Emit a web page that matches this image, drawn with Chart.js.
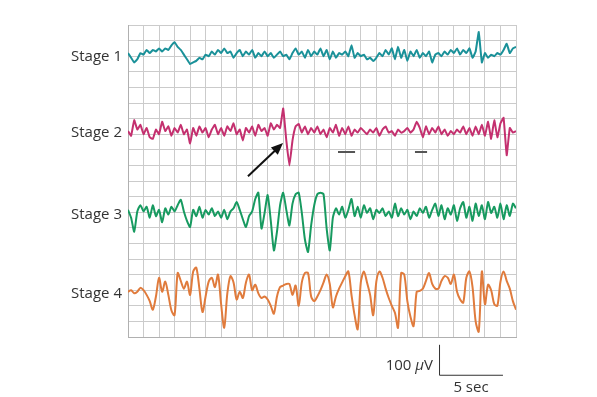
<!DOCTYPE html>
<html>
<head>
<meta charset="utf-8">
<title>Sleep stages EEG</title>
<script src="https://cdn.jsdelivr.net/npm/chart.js@4.4.0/dist/chart.umd.min.js"></script>
<style>
  html, body { margin: 0; padding: 0; background: #fff; }
  #wrap { width: 597px; height: 397px; }
</style>
</head>
<body>
<div id="wrap"><canvas id="eeg" width="597" height="397"></canvas></div>
<script>
// ── Data (x in grid columns, y in grid rows; one column sample every 0.2) ──
const STEP = 0.2;
const STAGE_NAMES = ["Stage 1", "Stage 2", "Stage 3", "Stage 4"];
const STAGE_BASE = [18.1, 13.2, 7.95, 2.9];
const STAGE_COLORS = ["#1a9199", "#c4306f", "#179a60", "#e07b3c"];
const STAGE_TENSION = [0.1, 0.1, 0.2, 0.3];

const stage1 = [
  0.1, -0.2, -0.5, -0.3, 0.1, 0.0, 0.3, 0.1, 0.3, 0.2,
  0.4, 0.2, 0.4, 0.3, 0.6, 0.8, 0.5, 0.3, 0.0, -0.3,
  -0.6, -0.5, -0.4, -0.2, -0.3, 0.0, -0.1, 0.2, 0.0, 0.3,
  0.1, 0.4, 0.1, 0.2, -0.2, 0.1, 0.3, -0.1, 0.2, 0.0,
  0.3, -0.2, 0.1, -0.1, 0.2, -0.1, 0.1, -0.2, 0.0, 0.2,
  -0.1, 0.0, -0.3, 0.1, 0.4, 0.0, 0.2, -0.2, 0.3, -0.1,
  0.2, 0.0, 0.4, -0.1, 0.3, -0.3, 0.2, -0.2, 0.1, 0.0,
  0.2, -0.1, 0.6, -0.2, 0.1, -0.1, 0.0, -0.3, -0.2, -0.4,
  -0.2, 0.1, -0.1, 0.3, 0.0, 0.4, -0.3, 0.5, -0.2, 0.3,
  -0.4, 0.2, -0.1, 0.3, -0.2, 0.1, -0.1, 0.2, -0.5, 0.0,
  0.1, -0.1, 0.2, 0.0, 0.3, 0.1, 0.4, 0.0, 0.3, 0.1,
  0.4, -0.2, 0.2, 1.45, -0.5, 0.1, -0.2, 0.0, -0.1, 0.1,
  0.0, 0.3, 0.7, 0.1, 0.4, 0.5
];

const stage2 = [
  0.0, -0.3, 0.7, 0.1, 0.4, -0.2, 0.2, -0.4, -0.5, 0.1,
  -0.2, 0.6, 0.0, 0.3, -0.3, 0.2, -0.1, 0.4, -0.2, 0.1,
  -0.8, 0.2, -0.3, 0.3, -0.1, 0.2, -0.4, 0.1, 0.4, -0.2,
  0.2, -0.3, 0.3, 0.0, 0.5, -0.2, 0.1, -0.6, 0.2, -0.1,
  0.3, -0.3, 0.4, 0.0, 0.2, -0.3, 0.5, 0.1, 0.4, 0.2,
  1.45, -0.6, -2.2, -0.6, 0.3, 0.45, -0.1, 0.3, -0.2, 0.2,
  -0.1, 0.3, -0.2, 0.1, -0.4, 0.2, -0.1, 0.4, -0.3, 0.2,
  -0.2, 0.3, -0.3, 0.1, -0.1, 0.2, 0.0, -0.2, 0.1, -0.1,
  0.2, -0.3, 0.1, 0.3, -0.1, 0.0, -0.3, 0.1, -0.1, 0.0,
  0.2, -0.1, 0.1, 0.6, 0.2, -0.4, 0.3, -0.2, 0.2, -0.1,
  0.3, -0.2, 0.1, -0.3, 0.0, -0.2, 0.1, -0.1, 0.3, -0.2,
  0.2, -0.3, 0.3, -0.2, 0.4, -0.3, 0.6, -0.5, 0.7, -0.4,
  0.5, 0.85, -1.55, 0.2, -0.1, 0.0
];

const stage3 = [
  0.2, -0.3, -1.2, 0.1, 0.5, 0.1, 0.4, -0.3, 0.5, -0.2,
  0.2, -0.6, 0.3, -0.1, 0.4, 0.1, 0.5, 0.85, 0.1, -0.5,
  -0.9, 0.2, -0.2, 0.4, -0.3, 0.2, -0.1, 0.3, -0.2, 0.1,
  -0.3, 0.2, -0.4, 0.1, 0.3, 0.7, 0.2, -0.4, -0.9, -0.2,
  0.1, 0.9, 1.3, -1.0, 0.0, 1.15, -0.5, -2.4, -1.2, 0.5,
  1.3, 0.2, -0.8, 0.6, 1.2, 1.3, 0.0, -1.7, -2.5, -0.8,
  0.5, 1.2, 1.3, 1.2, -1.0, -2.4, -0.3, 0.3, -0.1, 0.4,
  -0.3, 0.2, 0.9, -0.2, 0.4, -0.3, 0.5, 0.0, 0.3, -0.4,
  0.2, 0.0, 0.3, -0.2, 0.1, -0.3, 0.6, -0.2, 0.3, -0.1,
  0.2, -0.4, 0.1, -0.2, 0.3, 0.0, 0.4, -0.3, 0.2, 0.6,
  -0.2, 0.5, -0.4, 0.3, -0.1, 0.5, -0.5, 0.3, 0.7, -0.3,
  0.4, -0.5, 0.6, -0.2, 0.5, -0.4, 0.7, 0.0, 0.4, -0.3,
  0.6, -0.4, 0.5, -0.2, 0.6, 0.3
];

const stage4 = [
  0.0, 0.1, -0.1, 0.0, 0.25, 0.1, -0.2, -0.6, -1.15, -0.3,
  0.9, 0.0, 0.65, -0.2, -1.2, -1.5, 1.2, 0.7, 0.2, 0.65,
  -0.2, 1.3, 1.55, 0.2, -1.3, -0.3, 0.65, 0.9, 0.3, 1.1,
  -0.8, -2.3, -0.1, 1.0, 0.6, -0.5, 0.0, -0.4, 0.6, 1.1,
  0.1, 0.45, -0.1, -0.4, -0.3, -0.5, -0.9, -1.4, -0.3, 0.3,
  0.4, 0.5, 0.5, -0.2, 0.4, -0.9, 0.6, 1.2, 1.2, -0.3,
  -0.6, -0.3, 0.1, 0.6, 1.1, 0.5, -1.0, -0.3, 0.2, 0.6,
  1.0, 1.3, -0.2, -1.5, -2.4, 0.6, 1.3, 0.6, -0.2, -1.5,
  0.65, 1.3, 0.9, 0.2, -0.4, -0.9, -1.35, -2.3, 1.2, 1.1,
  -0.6, -1.6, -2.2, 0.0, 0.05, 0.2, 0.7, 1.2, 0.5, 0.2,
  0.2, 0.7, 1.0, 0.9, 0.5, 1.1, 0.0, -0.5, -0.7, 0.9,
  1.3, 0.3, -1.9, -2.55, 1.3, -0.8, 0.45, 0.1, -0.8, -0.9,
  0.65, 1.3, 0.7, 0.2, -0.6, -1.15
];

const TRACES = [stage1, stage2, stage3, stage4];

// annotation marks, in grid units
const ARROW = { from: [7.73, 10.3], to: [9.99, 12.44] };
const DASHES = [[13.53, 14.63, 11.86], [18.49, 19.27, 11.86]];
const SCALE_BAR = { x: 20.04, top: -0.5, uv100: 1.92, sec5: 4.12 };

/* ── Datasets ───────────────────────────────────────────────*/
const datasets = TRACES.map((vals, s) => ({
  label: STAGE_NAMES[s],
  data: vals.map((v, i) => ({ x: i * STEP, y: STAGE_BASE[s] + v })),
  borderColor: STAGE_COLORS[s],
  borderWidth: 2,
  pointRadius: 0,
  tension: STAGE_TENSION[s],
  fill: false
}));

/* ── Text + annotations ─────────────────────────────────────*/
const FONT = "15px 'Open Sans', 'Noto Sans', sans-serif";

const overlay = {
  id: "overlay",
  afterDatasetsDraw(chart) {
    const { ctx, scales: { x, y } } = chart;
    const px = v => x.getPixelForValue(v);
    const py = v => y.getPixelForValue(v);
    ctx.save();

    // stage labels
    ctx.fillStyle = "#333";
    ctx.font = FONT;
    ctx.textAlign = "right";
    ctx.textBaseline = "middle";
    STAGE_NAMES.forEach((n, s) => ctx.fillText(n, px(0) - 6, py(STAGE_BASE[s]) + 2));

    // arrow
    const [x0, y0] = [px(ARROW.from[0]), py(ARROW.from[1])];
    const [x1, y1] = [px(ARROW.to[0]), py(ARROW.to[1])];
    const ang = Math.atan2(y1 - y0, x1 - x0);
    ctx.strokeStyle = "#111";
    ctx.fillStyle = "#111";
    ctx.lineWidth = 2;
    ctx.beginPath();
    ctx.moveTo(x0, y0);
    ctx.lineTo(x1 - 8 * Math.cos(ang), y1 - 8 * Math.sin(ang));
    ctx.stroke();
    ctx.beginPath();
    ctx.moveTo(x1, y1);
    ctx.lineTo(x1 - 12 * Math.cos(ang) + 5 * Math.sin(ang), y1 - 12 * Math.sin(ang) - 5 * Math.cos(ang));
    ctx.lineTo(x1 - 12 * Math.cos(ang) - 5 * Math.sin(ang), y1 - 12 * Math.sin(ang) + 5 * Math.cos(ang));
    ctx.closePath();
    ctx.fill();

    // short dashes under stage 2
    ctx.strokeStyle = "#555";
    ctx.lineWidth = 2;
    DASHES.forEach(([a, b, r]) => {
      ctx.beginPath();
      ctx.moveTo(px(a), py(r));
      ctx.lineTo(px(b), py(r));
      ctx.stroke();
    });

    // scale bar
    const sx = px(SCALE_BAR.x), sTop = py(SCALE_BAR.top);
    const sBot = py(SCALE_BAR.top - SCALE_BAR.uv100);
    const sRight = px(SCALE_BAR.x + SCALE_BAR.sec5);
    ctx.strokeStyle = "#333";
    ctx.lineWidth = 1;
    ctx.beginPath();
    ctx.moveTo(sx + 0.5, sTop);
    ctx.lineTo(sx + 0.5, sBot + 0.5);
    ctx.lineTo(sRight, sBot + 0.5);
    ctx.stroke();

    ctx.fillStyle = "#333";
    ctx.textBaseline = "middle";
    ctx.font = FONT;
    ctx.textAlign = "right";
    const vw = ctx.measureText("V").width;
    ctx.fillText("V", sx - 6, sBot - 9);
    ctx.font = "italic " + FONT;
    const mw = ctx.measureText("\u03bc").width;
    ctx.fillText("\u03bc", sx - 6 - vw, sBot - 9);
    ctx.font = FONT;
    ctx.fillText("100 ", sx - 6 - vw - mw, sBot - 9);
    ctx.textAlign = "center";
    ctx.fillText("5 sec", (sx + sRight) / 2, sBot + 13);

    ctx.restore();
  }
};

/* ── Chart ──────────────────────────────────────────────────*/
new Chart(document.getElementById("eeg"), {
  type: "line",
  data: { datasets },
  plugins: [overlay],
  options: {
    responsive: false,
    animation: false,
    devicePixelRatio: 1,
    layout: { padding: { left: 128, top: 25, right: 81, bottom: 60 } },
    scales: {
      x: {
        type: "linear", min: 0, max: 25,
        ticks: { display: false, stepSize: 1 },
        grid: { color: "#cbcbcb", lineWidth: 1, drawTicks: false },
        border: { color: "#b0b0b0", width: 1 }
      },
      y: {
        type: "linear", min: 0, max: 20,
        ticks: { display: false, stepSize: 1 },
        grid: { color: "#cbcbcb", lineWidth: 1, drawTicks: false },
        border: { color: "#b0b0b0", width: 1 }
      }
    },
    plugins: { legend: { display: false }, tooltip: { enabled: false } }
  }
});
</script>
</body>
</html>
